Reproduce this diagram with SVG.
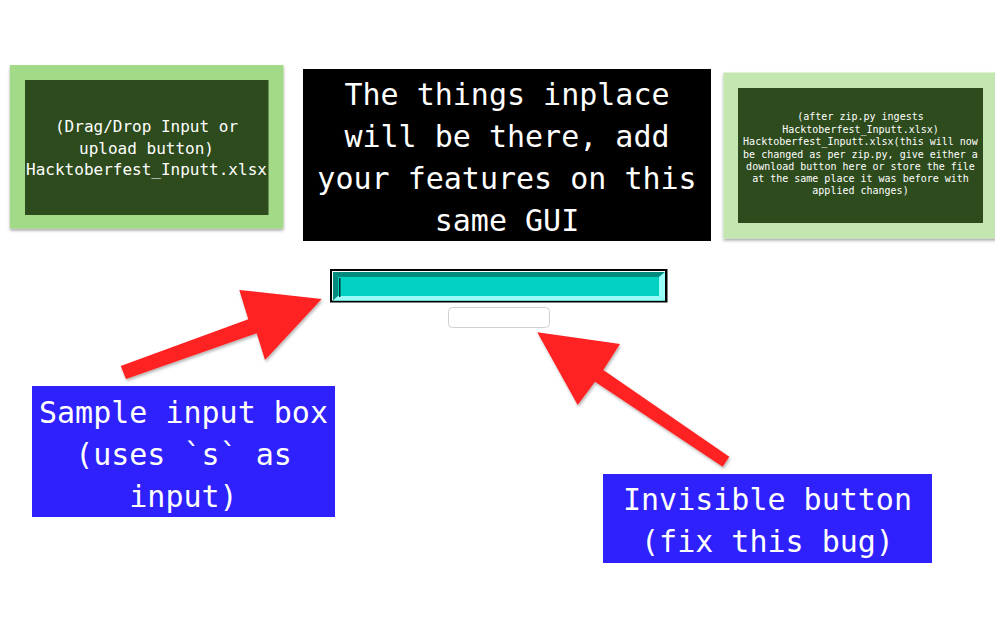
<svg xmlns="http://www.w3.org/2000/svg" width="995" height="635" viewBox="0 0 995 635">
  <defs>
    <filter id="shadow" x="-10%" y="-10%" width="125%" height="130%">
      <feDropShadow dx="0" dy="2" stdDeviation="1.5" flood-color="#000" flood-opacity="0.35"/>
    </filter>
    <filter id="ashadow" x="-10%" y="-10%" width="125%" height="130%">
      <feDropShadow dx="1" dy="2" stdDeviation="1.5" flood-color="#000" flood-opacity="0.3"/>
    </filter>
  </defs>
  <style>
    .mono { font-family: "DejaVu Sans Mono", "Liberation Mono", monospace; fill: #ffffff; text-anchor: middle; }
    .big { font-size: 30px; }
    .mid { font-size: 16px; }
    .small { font-size: 10px; }
    .inner { fill: #2d4b1d; }
    .blue { fill: #2e21fb; }
    .arrow { fill: #ff2020; filter: url(#ashadow); }
  </style>
  <rect width="995" height="635" fill="#ffffff"/>

  <g id="input-file">
    <rect x="10" y="65" width="273.5" height="163.5" fill="#a3da88" filter="url(#shadow)"/>
    <rect class="inner" x="25" y="80" width="243.5" height="135"/>
    <text class="mono mid" x="146.5" y="132">(Drag/Drop Input or</text>
    <text class="mono mid" x="146.5" y="153.5">upload button)</text>
    <text class="mono mid" x="146.5" y="175">Hacktoberfest_Inputt.xlsx</text>
  </g>

  <g id="title">
    <rect x="303" y="69" width="408" height="172" fill="#000000"/>
    <text class="mono big" x="507" y="105">The things inplace</text>
    <text class="mono big" x="507" y="147">will be there, add</text>
    <text class="mono big" x="507" y="189">your features on this</text>
    <text class="mono big" x="507" y="231">same GUI</text>
  </g>

  <g id="output-file">
    <rect x="723.5" y="72.5" width="275" height="166" fill="#c4e6b1" filter="url(#shadow)"/>
    <rect class="inner" x="738" y="88" width="245" height="135"/>
    <text class="mono small" x="860.5" y="120">(after zip.py ingests</text>
    <text class="mono small" x="860.5" y="132.5">Hacktoberfest_Inputt.xlsx)</text>
    <text class="mono small" x="860.5" y="145">Hacktoberfest_Inputt.xlsx(this will now</text>
    <text class="mono small" x="860.5" y="157.5">be changed as per zip.py, give either a</text>
    <text class="mono small" x="860.5" y="169.5">download button here or store the file</text>
    <text class="mono small" x="860.5" y="181.5">at the same place it was before with</text>
    <text class="mono small" x="860.5" y="194">applied changes)</text>
  </g>

  <g id="input-box">
    <rect x="330" y="269" width="337.5" height="33.5" fill="#000000"/>
    <rect x="332" y="271" width="333" height="29.5" fill="#ffffff"/>
    <rect x="333" y="272" width="332" height="28.5" fill="#00d1c1"/>
    <polygon points="333,272 665,272 659,277 338,277" fill="#008a7b"/>
    <polygon points="333,272 338,277 338,296 333,300.5" fill="#008a7b"/>
    <polygon points="333,300.5 665,300.5 659,296 338,296" fill="#99fff8"/>
    <polygon points="665,272 665,300.5 659,296 659,277" fill="#99fff8"/>
    <rect x="339" y="278" width="1.5" height="19" fill="#003030"/>
  </g>

  <g id="button">
    <rect x="448.5" y="307.5" width="101" height="20" rx="4" ry="4" fill="#ffffff" stroke="#d0d0d0" stroke-width="1"/>
  </g>

  <g id="label-input">
    <rect class="blue" x="32" y="386" width="303" height="131"/>
    <text class="mono big" x="183.5" y="422.5">Sample input box</text>
    <text class="mono big" x="183.5" y="464.5">(uses `s` as</text>
    <text class="mono big" x="183.5" y="506.5">input)</text>
  </g>

  <g id="label-button">
    <rect class="blue" x="603" y="474" width="329" height="89"/>
    <text class="mono big" x="767.5" y="510">Invisible button</text>
    <text class="mono big" x="767.5" y="552">(fix this bug)</text>
  </g>

  <g id="connectors">
    <polygon class="arrow" points="120.7,366 248.3,319.3 239.3,290 321.7,299 265,360 256.7,333.3 126,379"/>
    <polygon class="arrow" points="729.3,456.7 603.3,370 620,344 537.3,332.3 577.7,405 595,381.7 722.7,466.7"/>
  </g>
</svg>
